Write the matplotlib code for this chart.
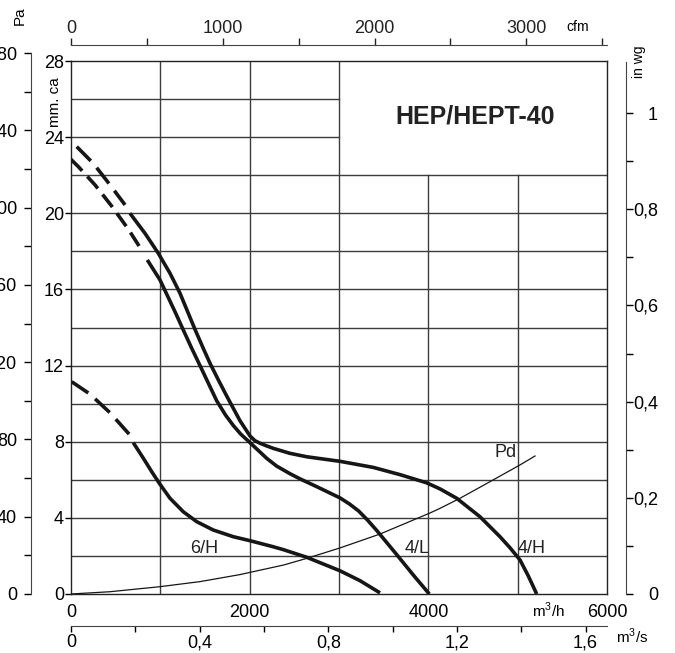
import matplotlib
matplotlib.use('Agg')
import matplotlib.pyplot as plt

plt.rcParams['font.family'] = ['Liberation Sans', 'DejaVu Sans']
plt.rcParams['mathtext.fontset'] = 'custom'
plt.rcParams['mathtext.rm'] = 'Liberation Sans'
plt.rcParams['lines.scale_dashes'] = False

# curve data, flow in m3/h, pressure in mm ca
h4_dash_q = [64, 250, 437, 605]
h4_dash_p = [23.50, 22.62, 21.49, 20.44]
h4_q = [660, 828, 977, 1108, 1220, 1388, 1481, 1556, 1649, 1743, 1892, 2004, 2060, 2116,
        2190, 2265, 2451, 2638, 3011, 3384, 3683, 3982, 4131, 4317, 4578, 4802, 4914,
        5026, 5119, 5213]
h4_p = [20.0, 18.95, 17.9, 16.85, 15.8, 13.9, 12.9, 12.12, 11.25, 10.4, 9.1, 8.3, 8.05, 7.92,
        7.78, 7.65, 7.39, 7.21, 6.97, 6.65, 6.27, 5.84, 5.52, 5.03, 4.06, 3.01, 2.43,
        1.79, 0.95, 0.0]

l4_dash_q = [0, 82, 269, 455, 642, 791]
l4_dash_p = [22.83, 22.45, 21.49, 20.38, 19.16, 18.07]
l4_q = [854, 996, 1164, 1257, 1351, 1444, 1540, 1631, 1730, 1817, 1900, 2004, 2190, 2302,
        2451, 2563, 2750, 3011, 3120, 3220, 3320, 3420, 3630, 3840, 4011]
l4_p = [17.55, 16.5, 14.83, 13.87, 12.91, 12.0, 11.05, 10.15, 9.4, 8.85, 8.4, 7.95, 7.13, 6.72,
        6.32, 6.05, 5.64, 5.05, 4.72, 4.36, 3.88, 3.35, 2.16, 0.95, 0.0]

h6_dash_q = [8, 213, 437, 660]
h6_dash_p = [11.15, 10.5, 9.52, 8.35]
h6_q = [697, 810, 903, 988, 1108, 1257, 1407, 1593, 1817, 2004, 2265, 2377, 2638,
        3011, 3235, 3459]
h6_p = [7.95, 7.13, 6.43, 5.82, 5.03, 4.32, 3.80, 3.36, 3.01, 2.80, 2.48, 2.33, 1.93,
        1.22, 0.70, 0.06]

pd_q = [0, 437, 988, 1444, 1892, 2377, 2638, 3011, 3459, 4011, 4131, 4355, 4690, 5026, 5194]
pd_p = [0, 0.12, 0.38, 0.65, 1.02, 1.52, 1.87, 2.42, 3.15, 4.24, 4.50, 5.03, 5.90, 6.78, 7.25]

curve_labels = ['6/H', '4/L', '4/H', 'Pd']
label_q = [1490, 3870, 5160, 4860]
label_p = [2.4, 2.4, 2.4, 7.45]

mm_ticks = [0, 4, 8, 12, 16, 20, 24, 28]
q_ticks = [0, 2000, 4000, 6000]
cfm_ticks = [0, 500, 1000, 1500, 2000, 2500, 3000, 3500]
cfm_labels = ['0', '', '1000', '', '2000', '', '3000', '']
m3s_ticks = [0, 0.2, 0.4, 0.6, 0.8, 1.0, 1.2, 1.4, 1.6]
m3s_labels = ['0', '', '0,4', '', '0,8', '', '1,2', '', '1,6']
pa_ticks = list(range(0, 281, 20))
pa_labels = [str(v) if v % 40 == 0 else '' for v in pa_ticks]
wg_ticks = [0, 0.1, 0.2, 0.3, 0.4, 0.5, 0.6, 0.7, 0.8, 0.9, 1.0]
wg_labels = ['0', '', '0,2', '', '0,4', '', '0,6', '', '0,8', '', '1']

W, H = 675, 653
def box(x0, y0, x1, y1):
    return [x0 / W, 1 - y1 / H, (x1 - x0) / W, (y1 - y0) / H]

fig = plt.figure(figsize=(6.75, 6.53), dpi=100)
ax = fig.add_axes(box(71, 61, 607, 594))
ax.set_xlim(0, 6000)
ax.set_ylim(0, 28)

gc = '#3c3c3c'
for y in range(2, 27, 2):
    ax.plot([0, 3000 if y > 22 else 6000], [y, y], color=gc, lw=1.0, zorder=1)
for x in [1000, 2000, 3000, 4000, 5000]:
    ax.plot([x, x], [0, 28 if x <= 3000 else 22], color=gc, lw=1.0, zorder=1)

lc = '#161616'
for dq, dp, q, p, dash in [(h4_dash_q, h4_dash_p, h4_q, h4_p, (14.4, 6.5)),
                           (l4_dash_q, l4_dash_p, l4_q, l4_p, (11.5, 5.5)),
                           (h6_dash_q, h6_dash_p, h6_q, h6_p, (14.4, 6.5))]:
    ax.plot(dq, dp, color=lc, lw=2.6, dashes=dash, zorder=3)
    ax.plot(q, p, color=lc, lw=2.6, solid_capstyle='butt', solid_joinstyle='round', zorder=3)
ax.plot(pd_q, pd_p, color=lc, lw=0.9, zorder=3)

for t, x, y in zip(curve_labels, label_q, label_p):
    ax.text(x, y, t, fontsize=13, ha='center', va='center', color='#222222')

ax.text(4520, 25.1, 'HEP/HEPT-40', fontsize=18, fontweight='bold',
        ha='center', va='center', color='#222222')

ax.set_yticks(mm_ticks)
ax.set_xticks(q_ticks)
ax.set_xticklabels([str(v) for v in q_ticks])
ax.tick_params(axis='y', length=4, width=1, pad=1, labelsize=13)
ax.tick_params(axis='x', length=0, pad=7, labelsize=13)
for s in ax.spines.values():
    s.set_linewidth(1.0)
    s.set_color('#222222')
ax.text(-0.03, 0.923, 'mm. ca', transform=ax.transAxes, rotation=90,
        fontsize=11, ha='center', va='center')
ax.text(0.89, -0.03, 'm$^3$/h', transform=ax.transAxes,
        fontsize=11, ha='center', va='center')

# top cfm scale
axc = fig.add_axes(box(71, 45, 607, 47))
axc.set_xlim(0, 6000 / 1.699)
axc.set_ylim(0, 1)
for k in ['left', 'right', 'bottom']:
    axc.spines[k].set_visible(False)
axc.spines['top'].set_color('#444444')
axc.set_yticks([])
axc.xaxis.tick_top()
axc.set_xticks(cfm_ticks)
axc.set_xticklabels(cfm_labels)
axc.tick_params(axis='x', direction='out', length=5, width=1, pad=1, labelsize=13,
                colors='#222222')
axc.patch.set_visible(False)
fig.text(578 / W, 1 - 27 / H, 'cfm', fontsize=10, ha='center', va='center')

# bottom m3/s scale
axs = fig.add_axes(box(71, 624, 607, 626))
axs.set_xlim(0, 6000 / 3600)
axs.set_ylim(0, 1)
for k in ['left', 'right', 'top']:
    axs.spines[k].set_visible(False)
axs.spines['bottom'].set_color('#444444')
axs.set_yticks([])
axs.set_xticks(m3s_ticks)
axs.set_xticklabels(m3s_labels)
axs.tick_params(axis='x', direction='out', length=4.5, width=1, pad=1.5, labelsize=13)
axs.patch.set_visible(False)
fig.text(632 / W, 1 - 636 / H, 'm$^3$/s', fontsize=11, ha='center', va='center')

# left Pa scale
axp = fig.add_axes(box(31, 53, 33, 594))
axp.set_ylim(0, 280)
axp.set_xlim(0, 1)
for k in ['right', 'bottom', 'top']:
    axp.spines[k].set_visible(False)
axp.spines['left'].set_color('#444444')
axp.set_xticks([])
axp.set_yticks(pa_ticks)
axp.set_yticklabels(pa_labels)
axp.tick_params(axis='y', direction='out', length=5, width=1, pad=5, labelsize=13)
axp.patch.set_visible(False)
fig.text(20 / W, 1 - 16 / H, 'Pa', fontsize=11, rotation=90, ha='center', va='center')

# right in wg scale
axw = fig.add_axes(box(624, 62, 626, 594))
axw.set_ylim(0, 532 / 481)
axw.set_xlim(0, 1)
for k in ['left', 'bottom', 'top']:
    axw.spines[k].set_visible(False)
axw.spines['right'].set_color('#444444')
axw.set_xticks([])
axw.yaxis.tick_right()
axw.set_yticks(wg_ticks)
axw.set_yticklabels(wg_labels)
axw.tick_params(axis='y', direction='out', length=5, width=1, pad=18, labelsize=13)
for t in axw.get_yticklabels():
    t.set_horizontalalignment('right')
axw.patch.set_visible(False)
fig.text(639 / W, 1 - 62 / H, 'in wg', fontsize=10, rotation=90, ha='center', va='center')

fig.savefig('out.png', dpi=100)
